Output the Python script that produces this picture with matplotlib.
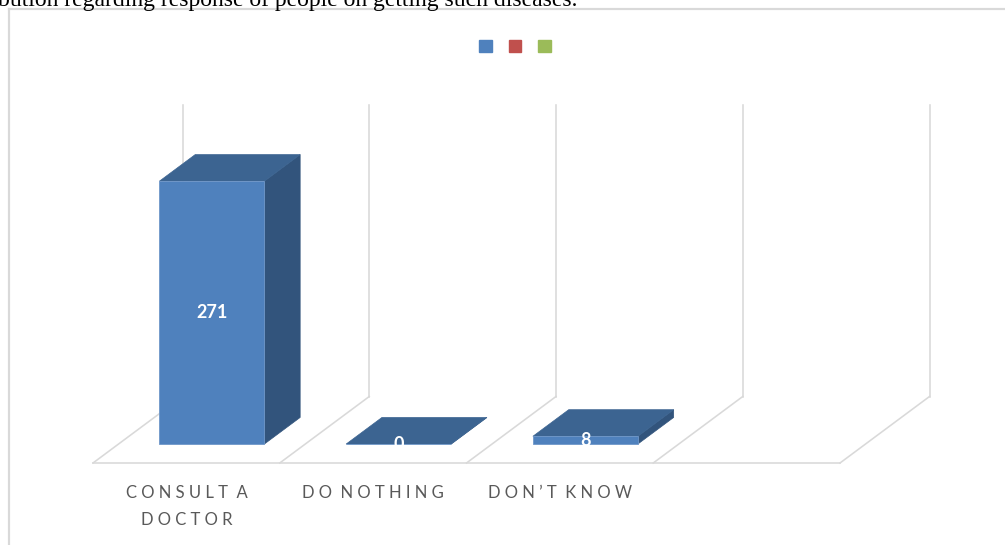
import matplotlib
matplotlib.use("Agg")
import matplotlib.pyplot as plt
from matplotlib.patches import Polygon, Patch
from matplotlib.lines import Line2D

# ---- data ----
categories = ["CONSULT A\nDOCTOR", "DO NOTHING", "DON\u2019T KNOW", ""]
values = [271, 0, 8, None]
value_labels = ["271", "0", "8", ""]
legend_colors = ["#4F81BD", "#C0504D", "#9BBB59"]
axis_max = 300
caption = "bution regarding response of people on getting such diseases."

# ---- style / geometry ----
W, H = 1005, 545
DPI = 100
PX_PER_CAT = 186.75
PX_PER_VAL = 0.97
X0 = 93.0     # front floor left edge (px)
Y0 = 463.0    # front floor line (px)
DX = 89.5 / PX_PER_CAT     # depth offset in category units
DY = 66.5 / PX_PER_VAL     # depth offset in value units
BAR_D0, BAR_D1 = 0.285, 0.685
BAR_W = 0.562
GRID = "#D9D9D9"
FRONT = "#4F81BD"
TOP = "#3C6491"
SIDE = "#32547C"

fig = plt.figure(figsize=(W / DPI, H / DPI), dpi=DPI)
ax = fig.add_axes([0, 0, 1, 1])
ax.set_xlim(-X0 / PX_PER_CAT, (W - X0) / PX_PER_CAT)
ax.set_ylim(-(H - Y0) / PX_PER_VAL, Y0 / PX_PER_VAL)
ax.axis("off")


def P(c, v, d):
    return (c + d * DX, v + d * DY)


n = len(categories)
lw_grid = 1.6 * 72 / DPI
# back-wall vertical gridlines and floor diagonals
for i in range(n + 1):
    xs, ys = zip(P(i, 0, 1), P(i, axis_max, 1))
    ax.add_line(Line2D(xs, ys, color=GRID, lw=lw_grid, zorder=1))
    xs, ys = zip(P(i, 0, 0), P(i, 0, 1))
    ax.add_line(Line2D(xs, ys, color=GRID, lw=lw_grid, zorder=1))
xs, ys = zip(P(0, 0, 0), P(n, 0, 0))
ax.add_line(Line2D(xs, ys, color=GRID, lw=lw_grid, zorder=1))

# bars
for i, v in enumerate(values):
    if v is None:
        continue
    cl = i + 0.5 - BAR_W / 2
    cr = i + 0.5 + BAR_W / 2
    side = [P(cr, 0, BAR_D0), P(cr, 0, BAR_D1), P(cr, v, BAR_D1), P(cr, v, BAR_D0)]
    top = [P(cl, v, BAR_D0), P(cr, v, BAR_D0), P(cr, v, BAR_D1), P(cl, v, BAR_D1)]
    front = [P(cl, 0, BAR_D0), P(cr, 0, BAR_D0), P(cr, v, BAR_D0), P(cl, v, BAR_D0)]
    ax.add_patch(Polygon(side, closed=True, facecolor=SIDE, edgecolor=SIDE, lw=0.5, zorder=3))
    ax.add_patch(Polygon(top, closed=True, facecolor=TOP, edgecolor=TOP, lw=0.5, zorder=3))
    ax.add_patch(Polygon(front, closed=True, facecolor=FRONT, edgecolor="#6F97C9", lw=0.6, zorder=4))
    lx, ly = P(i + 0.5, v / 2, BAR_D0)
    ax.text(lx, ly, value_labels[i], color="white", fontsize=13, fontweight="bold",
            family="Lato", ha="center", va="center", zorder=6)

# category labels
def spaced(s):
    return "\n".join(" ".join(list(line)).replace("   ", "  ") for line in s.split("\n"))

for i, c in enumerate(categories):
    if not c:
        continue
    x, y = P(i + 0.5, 0, 0)
    ax.text(x, y - 22 / PX_PER_VAL, spaced(c), color="#595959", fontsize=12,
            family="Lato", ha="center", va="top", linespacing=1.85, zorder=6)

# legend (series without names)
handles = [Patch(facecolor=col, edgecolor=col) for col in legend_colors]
fig.legend(handles, ["", "", ""], ncol=3, loc="center",
           bbox_to_anchor=(515 / W, 1 - 46.5 / H), frameon=False,
           prop={"size": 10}, handlelength=0.93, handleheight=0.93,
           handletextpad=0.0, columnspacing=1.22, borderpad=0)

# outer chart border (left and top)
bl = 2.2 * 72 / DPI
fig.add_artist(Line2D([8.5 / W, 8.5 / W], [0, 1 - 8.5 / H], color=GRID, lw=bl,
                      transform=fig.transFigure))
fig.add_artist(Line2D([8.5 / W, 1], [1 - 8.5 / H, 1 - 8.5 / H], color=GRID, lw=bl,
                      transform=fig.transFigure))

# caption from the document, cut at the top
fig.text(-2 / W, 1 - 6 / H, caption, family="Liberation Serif", fontsize=17,
         color="black", ha="left", va="baseline")

fig.savefig("out.png", dpi=DPI)
